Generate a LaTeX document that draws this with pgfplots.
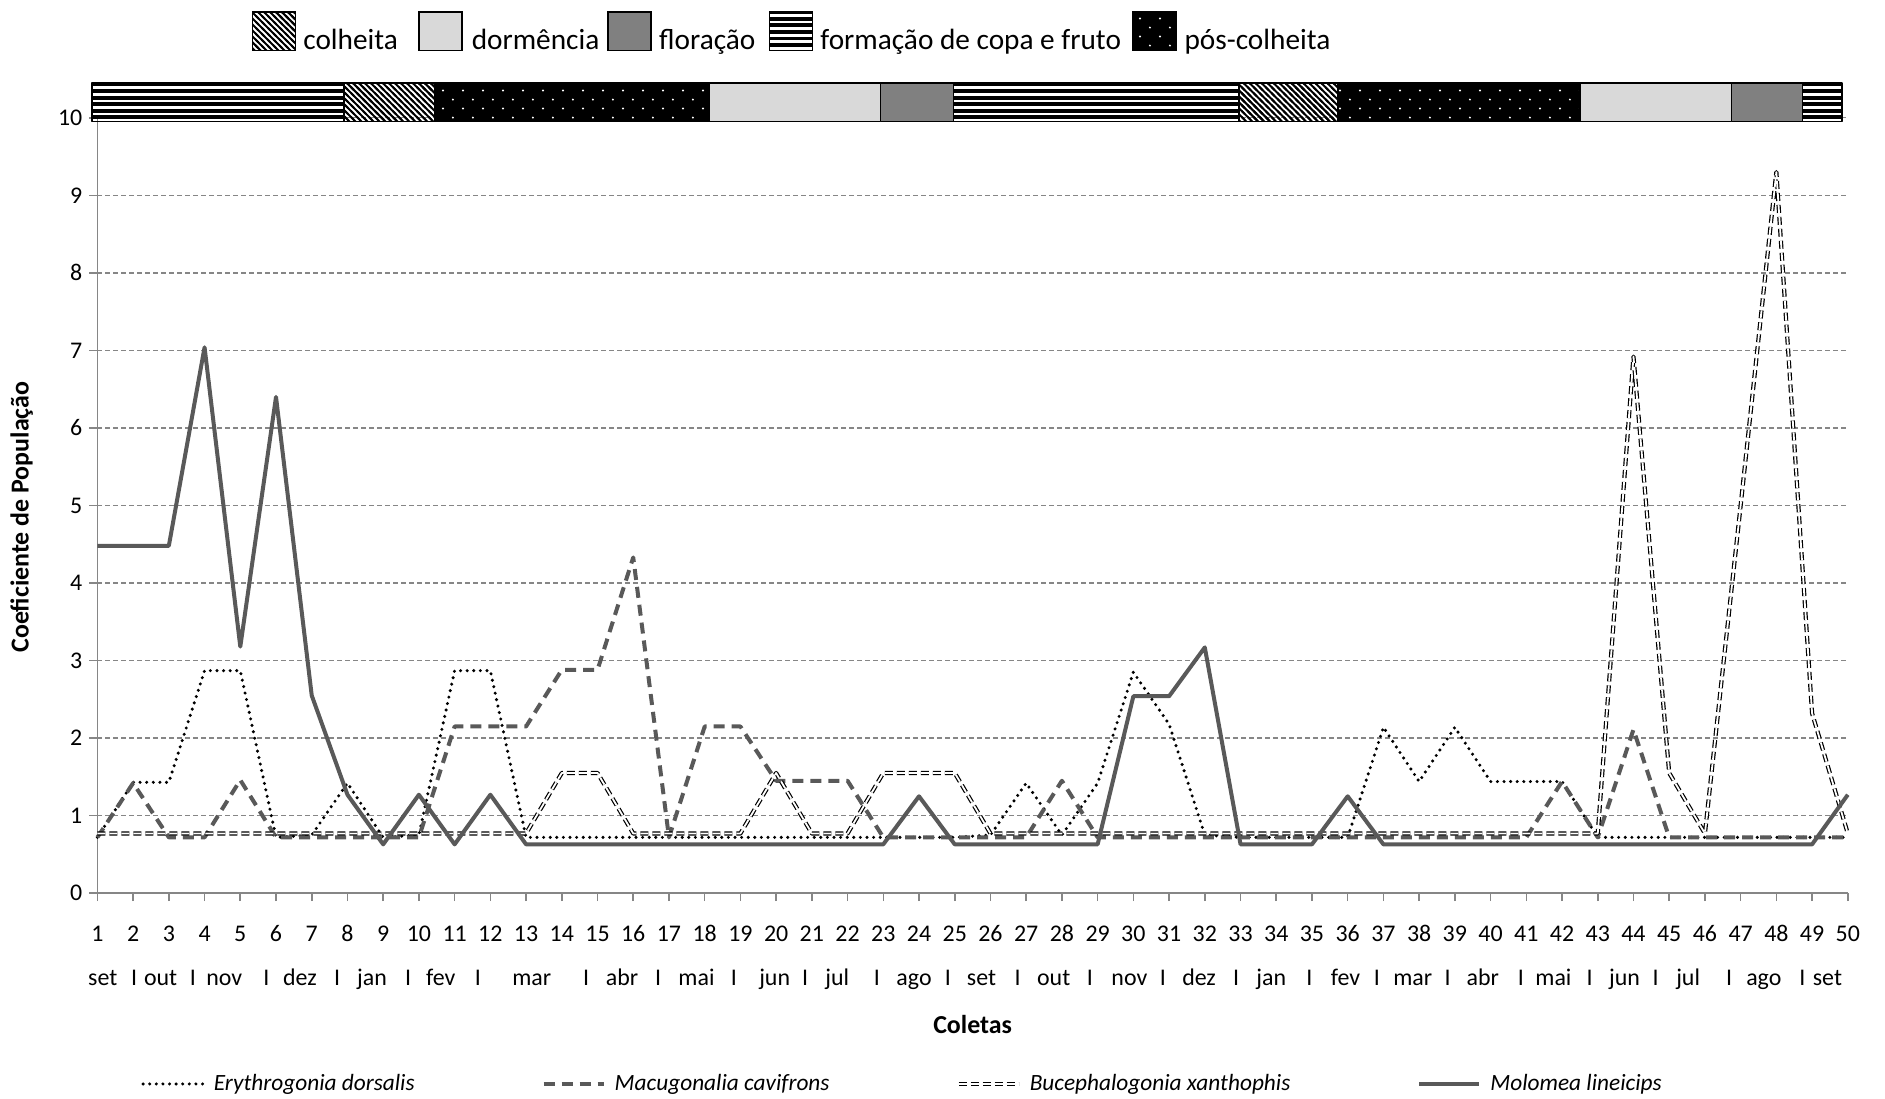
\documentclass[border=0pt]{standalone}
\usepackage{fontspec}
\setmainfont{Carlito}
\usepackage{pgfplots}
\usepackage{pgfplotstable}
\pgfplotsset{compat=1.18}
\usetikzlibrary{patterns}

\definecolor{axisgray}{HTML}{868686}
\definecolor{linegray}{HTML}{595959}
\definecolor{dormcol}{HTML}{D9D9D9}
\definecolor{florcol}{HTML}{808080}

\pgfdeclarepatternformonly{hstripes}{\pgfqpoint{-1pt}{0pt}}{\pgfqpoint{5pt}{3.3pt}}{\pgfqpoint{4pt}{3.3pt}}{\pgfpathrectangle{\pgfqpoint{-1pt}{0pt}}{\pgfqpoint{6pt}{1.9pt}}\pgfusepath{fill}}
\pgfdeclarepatternformonly{nwthick}{\pgfqpoint{-1pt}{-1pt}}{\pgfqpoint{4pt}{4pt}}{\pgfqpoint{3pt}{3pt}}{\pgfsetlinewidth{1pt}\pgfpathmoveto{\pgfqpoint{-1pt}{4pt}}\pgfpathlineto{\pgfqpoint{4pt}{-1pt}}\pgfusepath{stroke}}
\pgfdeclarepatternformonly{sparsedots}{\pgfqpoint{0pt}{0pt}}{\pgfqpoint{10pt}{9pt}}{\pgfqpoint{10pt}{9pt}}{\pgfpathcircle{\pgfqpoint{2.5pt}{2.25pt}}{0.55pt}\pgfpathcircle{\pgfqpoint{7.5pt}{6.75pt}}{0.55pt}\pgfusepath{fill}}

\tikzset{
  formacao/.style={draw=black, line width=0.8bp, pattern=hstripes, pattern color=black},
  colheita/.style={draw=black, line width=0.8bp, pattern=nwthick, pattern color=black},
  poscolheita/.style={draw=black, line width=0.8bp, preaction={fill=black}, pattern=sparsedots, pattern color=white},
  dormencia/.style={draw=black, line width=0.8bp, fill=dormcol},
  floracao/.style={draw=black, line width=0.8bp, fill=florcol},
  monthlab/.style={anchor=base, font=\fontsize{12}{14}\selectfont, inner sep=0pt},
}

\pgfplotstableread{
x E C B M
1 0.72 0.72 0.77 4.48
2 1.43 1.42 0.77 4.48
3 1.43 0.72 0.77 4.48
4 2.87 0.72 0.77 7.04
5 2.87 1.46 0.77 3.18
6 0.72 0.72 0.77 6.40
7 0.75 0.72 0.77 2.55
8 1.42 0.72 0.77 1.27
9 0.72 0.72 0.77 0.63
10 0.75 0.72 0.77 1.27
11 2.87 2.15 0.77 0.63
12 2.87 2.15 0.77 1.27
13 0.72 2.15 0.77 0.63
14 0.72 2.88 1.55 0.63
15 0.72 2.88 1.55 0.63
16 0.72 4.33 0.77 0.63
17 0.72 0.72 0.77 0.63
18 0.72 2.15 0.77 0.63
19 0.72 2.15 0.77 0.63
20 0.72 1.45 1.55 0.63
21 0.72 1.45 0.77 0.63
22 0.72 1.45 0.77 0.63
23 0.72 0.72 1.55 0.63
24 0.72 0.72 1.55 1.25
25 0.72 0.72 1.55 0.63
26 0.75 0.72 0.77 0.63
27 1.42 0.72 0.77 0.63
28 0.75 1.45 0.77 0.63
29 1.42 0.72 0.77 0.63
30 2.85 0.72 0.77 2.54
31 2.18 0.72 0.77 2.54
32 0.75 0.72 0.77 3.17
33 0.72 0.72 0.77 0.63
34 0.72 0.72 0.77 0.63
35 0.72 0.72 0.77 0.63
36 0.72 0.72 0.77 1.25
37 2.14 0.72 0.77 0.63
38 1.44 0.72 0.77 0.63
39 2.14 0.72 0.77 0.63
40 1.44 0.72 0.77 0.63
41 1.44 0.72 0.77 0.63
42 1.44 1.44 0.77 0.63
43 0.72 0.72 0.77 0.63
44 0.72 2.11 6.92 0.63
45 0.72 0.72 1.55 0.63
46 0.72 0.72 0.77 0.63
47 0.72 0.72 5.00 0.63
48 0.72 0.72 9.30 0.63
49 0.72 0.72 2.32 0.63
50 0.72 0.72 0.77 1.27
}\datatable

\newcommand{\mon}[2]{\node[monthlab] at (axis cs:#1,0) [yshift=-46.3bp] {#2};}
\newcommand{\phase}[3]{\addplot[#1, forget plot] coordinates {(#2,9.95) (#3,9.95) (#3,10.45) (#2,10.45)} -- cycle;}

\begin{document}
\begin{tikzpicture}
\useasboundingbox (-48.7bp,-102.9bp) rectangle (893.8bp,446.6bp);
\begin{axis}[
  at={(0,0)}, anchor=south west,
  scale only axis, width=875.2bp, height=387.7bp,
  xmin=1, xmax=50, ymin=0, ymax=10,
  axis x line*=bottom, axis y line*=left,
  axis line style={draw=axisgray, line width=0.8bp, -},
  xtick={1,...,50}, ytick={0,...,10},
  tick style={draw=axisgray, line width=0.8bp},
  tick align=outside, major tick length=4bp,
  ymajorgrids,
  grid style={draw=axisgray, dash pattern=on 2.5bp off 1.5bp, line width=0.65bp},
  ticklabel style={font=\fontsize{12}{14}\selectfont, text=black},
  /pgf/number format/assume math mode=true,
  xticklabel style={anchor=base, yshift=-20bp},
  yticklabel style={anchor=east},
  clip=false,
  legend columns=4,
  legend style={draw=none, fill=none, at={(axis description cs:0.0215,-0.246)}, anchor=west,
    font=\fontsize{11.7}{14}\selectfont\itshape,
    /tikz/every odd column/.append style={column sep=2.5bp},
    /tikz/every even column/.append style={column sep=61.5bp},
    nodes={inner sep=2bp}},
  legend cell align=left,
  legend image code/.code={\draw[#1] (0bp,0bp) -- (30bp,0bp);},
  line join=round,
]
\addplot[black, line width=1.7bp, dash pattern=on 0bp off 3.3bp, line cap=round] table[x=x, y=E] {\datatable};
\addlegendentry{Erythrogonia dorsalis}
\addplot[linegray, line width=2bp, dash pattern=on 5.5bp off 3.5bp] table[x=x, y=C] {\datatable};
\addlegendentry{Macugonalia cavifrons}
\addplot[draw=black, double=white, line width=0.6bp, double distance=0.9bp, dash pattern=on 4bp off 2bp] table[x=x, y=B] {\datatable};
\addlegendentry{Bucephalogonia xanthophis}
\addplot[linegray, line width=2bp] table[x=x, y=M] {\datatable};
\addlegendentry{Molomea lineicips}

\phase{formacao}{0.85}{7.91}
\phase{colheita}{7.91}{10.44}
\phase{poscolheita}{10.44}{18.14}
\phase{dormencia}{18.14}{22.92}
\phase{floracao}{22.92}{24.97}
\phase{formacao}{24.97}{32.95}
\phase{colheita}{32.95}{35.71}
\phase{poscolheita}{35.71}{42.5}
\phase{dormencia}{42.5}{46.74}
\phase{floracao}{46.74}{48.73}
\phase{formacao}{48.73}{49.84}

\mon{1.15}{set}\mon{2.03}{I}\mon{2.77}{out}\mon{3.67}{I}\mon{4.55}{nov}\mon{5.73}{I}
\mon{6.67}{dez}\mon{7.71}{I}\mon{8.69}{jan}\mon{9.70}{I}\mon{10.61}{fev}\mon{11.65}{I}
\mon{13.16}{mar}\mon{14.68}{I}\mon{15.69}{abr}\mon{16.70}{I}\mon{17.77}{mai}\mon{18.82}{I}
\mon{19.96}{jun}\mon{20.81}{I}\mon{21.71}{jul}\mon{22.82}{I}\mon{23.86}{ago}\mon{24.81}{I}
\mon{25.75}{set}\mon{26.76}{I}\mon{27.77}{out}\mon{28.78}{I}\mon{29.89}{nov}\mon{30.83}{I}
\mon{31.84}{dez}\mon{32.88}{I}\mon{33.86}{jan}\mon{34.93}{I}\mon{35.94}{fev}\mon{36.82}{I}
\mon{37.82}{mar}\mon{38.80}{I}\mon{39.78}{abr}\mon{40.85}{I}\mon{41.76}{mai}\mon{42.77}{I}
\mon{43.75}{jun}\mon{44.62}{I}\mon{45.53}{jul}\mon{46.68}{I}\mon{47.65}{ago}\mon{48.73}{I}
\mon{49.43}{set}
\end{axis}

% axis titles
\node[font=\fontsize{13}{15}\selectfont\bfseries] at (437.6bp,-65.9bp) {Coletas};
\node[font=\fontsize{13}{15}\selectfont\bfseries, rotate=90] at (-37.9bp,188bp) {Coeficiente de População};

% phenology legend
\tikzset{lbox/.style={minimum width=21.6bp, minimum height=19.2bp, inner sep=0pt},
         ltext/.style={anchor=base west, inner sep=0pt, font=\fontsize{14.7}{17}\selectfont}}
\node[lbox, colheita] at (88.3bp,430.9bp) {};
\node[ltext] at (102.8bp,421.9bp) {colheita};
\node[lbox, dormencia] at (171.6bp,430.9bp) {};
\node[ltext] at (187bp,421.9bp) {dormência};
\node[lbox, floracao] at (266bp,430.9bp) {};
\node[ltext] at (280.7bp,421.9bp) {floração};
\node[lbox, formacao] at (346.8bp,430.9bp) {};
\node[ltext] at (361.3bp,421.9bp) {formação de copa e fruto};
\node[lbox, poscolheita] at (528.4bp,430.9bp) {};
\node[ltext] at (543.4bp,421.9bp) {pós-colheita};
\end{tikzpicture}
\end{document}
